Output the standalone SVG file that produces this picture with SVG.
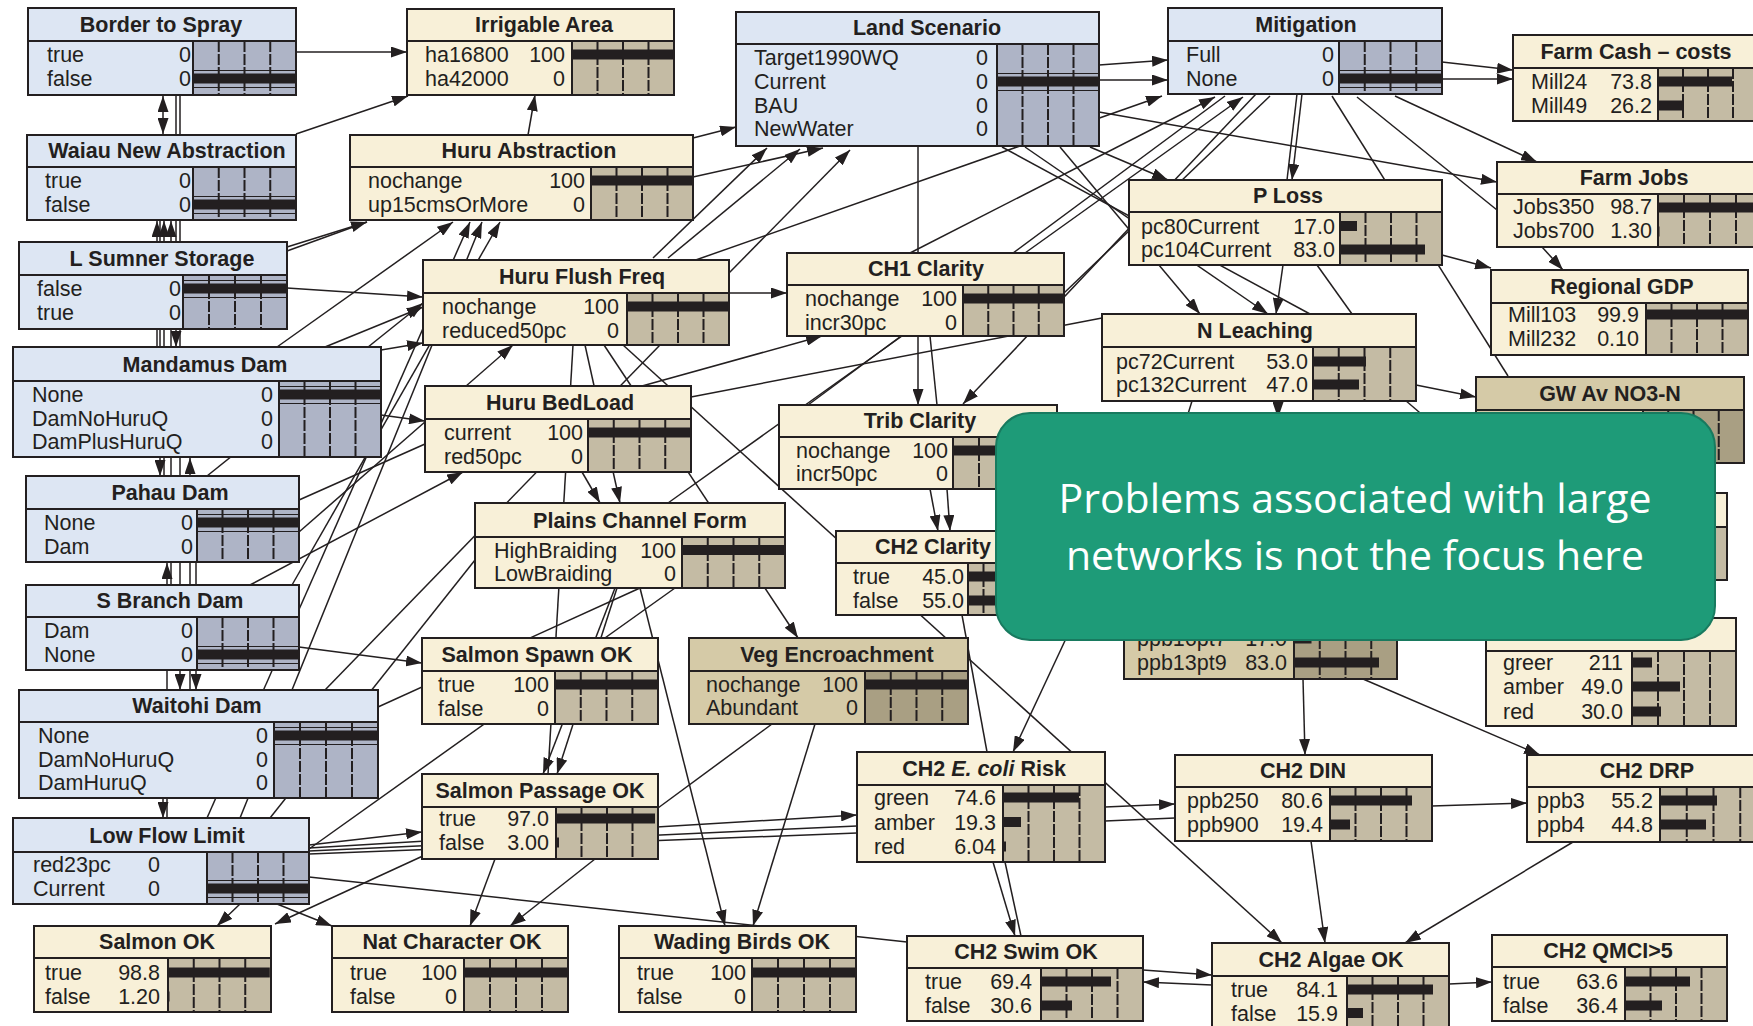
<svg xmlns="http://www.w3.org/2000/svg" width="1753" height="1026" viewBox="0 0 1753 1026">
<defs>
<marker id="ah" viewBox="0 0 16 11" refX="16" refY="5.5" markerWidth="16" markerHeight="11" markerUnits="userSpaceOnUse" orient="auto-start-reverse"><path d="M0,0 L16,5.5 L0,11 z" fill="#231f20"/></marker>
<style>
.b{fill:#dde6f3;stroke:#231f20;stroke-width:2}
.c{fill:#f8f0d8;stroke:#231f20;stroke-width:2}
.d{fill:#d5caa7;stroke:#231f20;stroke-width:2}
.bb{fill:#aeb4c6}
.cb{fill:#c4bba4}
.db{fill:#a99f83}
.bk{fill:#231f20}
.dv{stroke:#231f20;stroke-width:2;stroke-dasharray:11 2}
.ln{stroke:#231f20;stroke-width:2}
.th{stroke:#231f20;stroke-width:1}
.ol{fill:none;stroke:#231f20;stroke-width:2}
.t{font-family:"Liberation Sans",Arial,sans-serif;font-size:21.5px;font-weight:bold;fill:#231f20;text-anchor:middle}
.l{font-family:"Liberation Sans",Arial,sans-serif;font-size:21.5px;fill:#231f20}
.v{font-family:"Liberation Sans",Arial,sans-serif;font-size:21.5px;fill:#231f20;text-anchor:end}
.e{fill:none;stroke:#231f20;stroke-width:1.5}
.a{marker-end:url(#ah)}
.s{marker-start:url(#ah)}
.co{fill:#1e9b78;stroke:#187a5f;stroke-width:2}
.ct{font-family:"Open Sans","Noto Sans",sans-serif;font-size:41px;fill:#ffffff;text-anchor:middle}
</style>
</defs>
<rect width="1753" height="1026" fill="#ffffff"/>

<g id="connectors">
<path class="e a" d="M296,52 L407,52"/>
<path class="e a" d="M296,134 L408,96"/>
<path class="e a" d="M528,135 L535,95"/>
<path class="e a" d="M693,138 L736,127"/>
<path class="e a" d="M693,177 L823,148"/>
<path class="e a" d="M653,258 L767,148"/>
<path class="e a" d="M729,273 L850,150"/>
<path class="e a" d="M668,258 L800,149"/>
<path class="e a" d="M690,262 L1162,96"/>
<path class="e a" d="M1099,65 L1168,60"/>
<path class="e a" d="M1099,80 L1168,80"/>
<path class="e a" d="M910,253 L1215,97"/>
<path class="e a" d="M1025,253 L1243,97"/>
<path class="e a" d="M1256,94 L963,404"/>
<path class="e a" d="M1302,94 L1292,180"/>
<path class="e" d="M1297,94 L1287,180"/>
<path class="e a" d="M1442,62 L1513,70"/>
<path class="e a" d="M1442,79 L1513,79"/>
<path class="e a" d="M1395,96 L1537,162"/>
<path class="e" d="M1357,97 L1497,210"/>
<path class="e" d="M1332,96 L1508,376"/>
<path class="e a" d="M1099,112 L1497,182"/>
<path class="e a" d="M1090,147 L1168,180"/>
<path class="e" d="M1002,147 L1310,314"/>
<path class="e a" d="M1025,147 L1268,314"/>
<path class="e a" d="M1060,147 L1200,314"/>
<path class="e a" d="M1283,265 L1276,314"/>
<path class="e a" d="M1442,255 L1491,268"/>
<path class="e a" d="M1542,247 L1563,270"/>
<path class="e" d="M1317,265 L1352,314"/>
<path class="e a" d="M729,293 L787,293"/>
<path class="e a" d="M918,146 L918,405"/>
<path class="e" d="M930,336 L937,405"/>
<path class="e" d="M902,336 L668,503"/>
<path class="e" d="M1064,293 L1270,96"/>
<path class="e a" d="M930,489 L938,531"/>
<path class="e a" d="M947,489 L950,531"/>
<path class="e" d="M808,405 L1225,96"/>
<path class="e a" d="M287,288 L423,297"/>
<path class="e a" d="M381,350 L423,343"/>
<path class="e a" d="M299,532 L513,345"/>
<path class="e a" d="M381,415 L425,421"/>
<path class="e a" d="M250,585 L463,472"/>
<path class="e a" d="M299,647 L422,663"/>
<path class="e" d="M573,345 L548,774"/>
<path class="e a" d="M585,345 L620,503"/>
<path class="e a" d="M604,345 L798,638"/>
<path class="e a" d="M582,472 L600,503"/>
<path class="e a" d="M623,345 L1282,943"/>
<path class="e a" d="M642,386 L822,336"/>
<path class="e" d="M691,397 L1102,318"/>
<path class="e" d="M325,690 L660,345"/>
<path class="e a" d="M615,588 L543,774"/>
<path class="e a" d="M617,588 L557,774"/>
<path class="e" d="M309,849 L675,588"/>
<path class="e" d="M378,707 L640,588"/>
<path class="e a" d="M640,588 L725,926"/>
<path class="e" d="M772,724 L658,808"/>
<path class="e a" d="M815,724 L753,926"/>
<path class="e a" d="M495,859 L470,926"/>
<path class="e a" d="M595,859 L510,926"/>
<path class="e a" d="M425,855 L275,924"/>
<path class="e a" d="M240,904 L217,926"/>
<path class="e a" d="M277,904 L332,926"/>
<path class="e a" d="M309,845 L422,832"/>
<path class="e a" d="M309,848 L857,815"/>
<path class="e" d="M309,851 L857,826"/>
<path class="e" d="M309,854 L857,833"/>
<path class="e" d="M309,877 L907,942"/>
<path class="e a" d="M207,818 L470,222"/>
<path class="e a" d="M240,818 L482,222"/>
<path class="e a" d="M277,347 L453,222"/>
<path class="e a" d="M325,347 L423,307"/>
<path class="e" d="M299,500 L425,444"/>
<path class="e a" d="M292,585 L500,222"/>
<path class="e a" d="M207,476 L423,303"/>
<path class="e" d="M270,818 L475,560"/>
<path class="e a" d="M287,247 L367,222"/>
<path class="e" d="M287,251 L367,222"/>
<path class="e a" d="M1105,807 L1175,804"/>
<path class="e" d="M1105,821 L1175,818"/>
<path class="e a" d="M993,862 L1015,936"/>
<path class="e" d="M1005,862 L1021,936"/>
<path class="e a" d="M1143,970 L1212,975"/>
<path class="e a" d="M1212,985 L1143,982"/>
<path class="e a" d="M1432,806 L1527,803"/>
<path class="e a" d="M1311,841 L1325,943"/>
<path class="e a" d="M1573,842 L1405,943"/>
<path class="e a" d="M1449,984 L1492,982"/>
<path class="e a" d="M1303,679 L1305,755"/>
<path class="e a" d="M1363,679 L1540,755"/>
<path class="e a" d="M1416,385 L1476,397"/>
<path class="e a" d="M1278,401 L1278,418"/>
<path class="e" d="M1192,401 L1180,440"/>
<path class="e" d="M1405,400 L1440,430"/>
<path class="e a" d="M1070,630 L1013,752"/>
<path class="e" d="M962,615 L987,752"/>
<path class="e a s" d="M163,134 L163,96"/>
<path class="e a" d="M157,347 L157,221"/>
<path class="e a" d="M164,476 L164,221"/>
<path class="e a" d="M171,585 L171,221"/>
<path class="e a" d="M176,95 L176,347"/>
<path class="e a" d="M160,220 L160,476"/>
<path class="e a" d="M190,690 L190,458"/>
<path class="e a" d="M167,818 L167,563"/>
<path class="e a" d="M180,95 L180,690"/>
<path class="e a" d="M196,476 L196,690"/>
<path class="e a" d="M163,798 L163,818"/>
</g>

<g id="n-border">
<rect class="b" x="28" y="8" width="268" height="87"/>
<rect class="bb" x="193" y="41" width="103" height="54"/>
<line class="dv" x1="218.75" y1="41" x2="218.75" y2="95"/><line class="dv" x1="244.5" y1="41" x2="244.5" y2="95"/><line class="dv" x1="270.25" y1="41" x2="270.25" y2="95"/>
<rect class="bk" x="193" y="73.5" width="103" height="10"/>
<line class="th" x1="193" y1="70.5" x2="296" y2="70.5"/><line class="th" x1="193" y1="87.5" x2="296" y2="87.5"/>
<line class="ln" x1="28" y1="41" x2="296" y2="41"/><line class="ln" x1="193" y1="41" x2="193" y2="95"/>
<rect class="ol" x="28" y="8" width="268" height="87"/>
<text class="t" x="161" y="32">Border to Spray</text>
<text class="l" x="47" y="62">true</text><text class="v" x="191" y="62">0</text>
<text class="l" x="47" y="86">false</text><text class="v" x="191" y="86">0</text>
</g>

<g id="n-waiau">
<rect class="b" x="27" y="135" width="269" height="85"/>
<rect class="bb" x="193" y="167" width="103" height="53"/>
<line class="dv" x1="218.75" y1="167" x2="218.75" y2="220"/><line class="dv" x1="244.5" y1="167" x2="244.5" y2="220"/><line class="dv" x1="270.25" y1="167" x2="270.25" y2="220"/>
<rect class="bk" x="193" y="199.5" width="103" height="10"/>
<line class="th" x1="193" y1="196.5" x2="296" y2="196.5"/><line class="th" x1="193" y1="213.5" x2="296" y2="213.5"/>
<line class="ln" x1="27" y1="167" x2="296" y2="167"/><line class="ln" x1="193" y1="167" x2="193" y2="220"/>
<rect class="ol" x="27" y="135" width="269" height="85"/>
<text class="t" x="167" y="158">Waiau New Abstraction</text>
<text class="l" x="45" y="188">true</text><text class="v" x="191" y="188">0</text>
<text class="l" x="45" y="212">false</text><text class="v" x="191" y="212">0</text>
</g>

<g id="n-lsumner">
<rect class="b" x="19" y="242" width="268" height="87"/>
<rect class="bb" x="183" y="275" width="104" height="54"/>
<line class="dv" x1="209" y1="275" x2="209" y2="329"/><line class="dv" x1="235" y1="275" x2="235" y2="329"/><line class="dv" x1="261" y1="275" x2="261" y2="329"/>
<rect class="bk" x="183" y="283.5" width="104" height="10"/>
<line class="th" x1="183" y1="280.5" x2="287" y2="280.5"/><line class="th" x1="183" y1="297.5" x2="287" y2="297.5"/>
<line class="ln" x1="19" y1="275" x2="287" y2="275"/><line class="ln" x1="183" y1="275" x2="183" y2="329"/>
<rect class="ol" x="19" y="242" width="268" height="87"/>
<text class="t" x="162" y="266">L Sumner Storage</text>
<text class="l" x="37" y="296">false</text><text class="v" x="181" y="296">0</text>
<text class="l" x="37" y="320">true</text><text class="v" x="181" y="320">0</text>
</g>

<g id="n-mandamus">
<rect class="b" x="13" y="347" width="368" height="110"/>
<rect class="bb" x="279" y="381" width="102" height="76"/>
<line class="dv" x1="304.5" y1="381" x2="304.5" y2="457"/><line class="dv" x1="330" y1="381" x2="330" y2="457"/><line class="dv" x1="355.5" y1="381" x2="355.5" y2="457"/>
<rect class="bk" x="279" y="389.5" width="102" height="10"/>
<line class="th" x1="279" y1="386.5" x2="381" y2="386.5"/><line class="th" x1="279" y1="403.5" x2="381" y2="403.5"/>
<line class="ln" x1="13" y1="381" x2="381" y2="381"/><line class="ln" x1="279" y1="381" x2="279" y2="457"/>
<rect class="ol" x="13" y="347" width="368" height="110"/>
<text class="t" x="205" y="372">Mandamus Dam</text>
<text class="l" x="32" y="402">None</text><text class="v" x="273" y="402">0</text>
<text class="l" x="32" y="425.5">DamNoHuruQ</text><text class="v" x="273" y="425.5">0</text>
<text class="l" x="32" y="449">DamPlusHuruQ</text><text class="v" x="273" y="449">0</text>
</g>

<g id="n-pahau">
<rect class="b" x="26" y="476" width="273" height="86"/>
<rect class="bb" x="197" y="509" width="102" height="53"/>
<line class="dv" x1="222.5" y1="509" x2="222.5" y2="562"/><line class="dv" x1="248" y1="509" x2="248" y2="562"/><line class="dv" x1="273.5" y1="509" x2="273.5" y2="562"/>
<rect class="bk" x="197" y="517.5" width="102" height="10"/>
<line class="th" x1="197" y1="514.5" x2="299" y2="514.5"/><line class="th" x1="197" y1="531.5" x2="299" y2="531.5"/>
<line class="ln" x1="26" y1="509" x2="299" y2="509"/><line class="ln" x1="197" y1="509" x2="197" y2="562"/>
<rect class="ol" x="26" y="476" width="273" height="86"/>
<text class="t" x="170" y="500">Pahau Dam</text>
<text class="l" x="44" y="530">None</text><text class="v" x="193" y="530">0</text>
<text class="l" x="44" y="554">Dam</text><text class="v" x="193" y="554">0</text>
</g>

<g id="n-sbranch">
<rect class="b" x="26" y="585" width="273" height="85"/>
<rect class="bb" x="197" y="617" width="102" height="53"/>
<line class="dv" x1="222.5" y1="617" x2="222.5" y2="670"/><line class="dv" x1="248" y1="617" x2="248" y2="670"/><line class="dv" x1="273.5" y1="617" x2="273.5" y2="670"/>
<rect class="bk" x="197" y="649.5" width="102" height="10"/>
<line class="th" x1="197" y1="646.5" x2="299" y2="646.5"/><line class="th" x1="197" y1="663.5" x2="299" y2="663.5"/>
<line class="ln" x1="26" y1="617" x2="299" y2="617"/><line class="ln" x1="197" y1="617" x2="197" y2="670"/>
<rect class="ol" x="26" y="585" width="273" height="85"/>
<text class="t" x="170" y="608">S Branch Dam</text>
<text class="l" x="44" y="638">Dam</text><text class="v" x="193" y="638">0</text>
<text class="l" x="44" y="662">None</text><text class="v" x="193" y="662">0</text>
</g>

<g id="n-waitohi">
<rect class="b" x="19" y="690" width="359" height="108"/>
<rect class="bb" x="274" y="722" width="104" height="76"/>
<line class="dv" x1="300" y1="722" x2="300" y2="798"/><line class="dv" x1="326" y1="722" x2="326" y2="798"/><line class="dv" x1="352" y1="722" x2="352" y2="798"/>
<rect class="bk" x="274" y="730.5" width="104" height="10"/>
<line class="th" x1="274" y1="727.5" x2="378" y2="727.5"/><line class="th" x1="274" y1="744.5" x2="378" y2="744.5"/>
<line class="ln" x1="19" y1="722" x2="378" y2="722"/><line class="ln" x1="274" y1="722" x2="274" y2="798"/>
<rect class="ol" x="19" y="690" width="359" height="108"/>
<text class="t" x="197" y="713">Waitohi Dam</text>
<text class="l" x="38" y="743">None</text><text class="v" x="268" y="743">0</text>
<text class="l" x="38" y="766.5">DamNoHuruQ</text><text class="v" x="268" y="766.5">0</text>
<text class="l" x="38" y="790">DamHuruQ</text><text class="v" x="268" y="790">0</text>
</g>

<g id="n-lowflow">
<rect class="b" x="13" y="818" width="296" height="86"/>
<rect class="bb" x="207" y="852" width="102" height="52"/>
<line class="dv" x1="232.5" y1="852" x2="232.5" y2="904"/><line class="dv" x1="258" y1="852" x2="258" y2="904"/><line class="dv" x1="283.5" y1="852" x2="283.5" y2="904"/>
<rect class="bk" x="207" y="883.5" width="102" height="10"/>
<line class="th" x1="207" y1="880.5" x2="309" y2="880.5"/><line class="th" x1="207" y1="897.5" x2="309" y2="897.5"/>
<line class="ln" x1="13" y1="852" x2="309" y2="852"/><line class="ln" x1="207" y1="852" x2="207" y2="904"/>
<rect class="ol" x="13" y="818" width="296" height="86"/>
<text class="t" x="167" y="843">Low Flow Limit</text>
<text class="l" x="33" y="872">red23pc</text><text class="v" x="160" y="872">0</text>
<text class="l" x="33" y="896">Current</text><text class="v" x="160" y="896">0</text>
</g>

<g id="n-land">
<rect class="b" x="736" y="12" width="363" height="134"/>
<rect class="bb" x="997" y="44" width="102" height="102"/>
<line class="dv" x1="1022.5" y1="44" x2="1022.5" y2="146"/><line class="dv" x1="1048" y1="44" x2="1048" y2="146"/><line class="dv" x1="1073.5" y1="44" x2="1073.5" y2="146"/>
<rect class="bk" x="997" y="76.5" width="102" height="10"/>
<line class="th" x1="997" y1="73.5" x2="1099" y2="73.5"/><line class="th" x1="997" y1="90.5" x2="1099" y2="90.5"/>
<line class="ln" x1="736" y1="44" x2="1099" y2="44"/><line class="ln" x1="997" y1="44" x2="997" y2="146"/>
<rect class="ol" x="736" y="12" width="363" height="134"/>
<text class="t" x="927" y="35">Land Scenario</text>
<text class="l" x="754" y="64.5">Target1990WQ</text><text class="v" x="988" y="64.5">0</text>
<text class="l" x="754" y="89">Current</text><text class="v" x="988" y="89">0</text>
<text class="l" x="754" y="112.5">BAU</text><text class="v" x="988" y="112.5">0</text>
<text class="l" x="754" y="136">NewWater</text><text class="v" x="988" y="136">0</text>
</g>

<g id="n-mitigation">
<rect class="b" x="1168" y="8" width="274" height="86"/>
<rect class="bb" x="1339" y="41" width="103" height="53"/>
<line class="dv" x1="1364.75" y1="41" x2="1364.75" y2="94"/><line class="dv" x1="1390.5" y1="41" x2="1390.5" y2="94"/><line class="dv" x1="1416.25" y1="41" x2="1416.25" y2="94"/>
<rect class="bk" x="1339" y="73.5" width="103" height="10"/>
<line class="th" x1="1339" y1="70.5" x2="1442" y2="70.5"/><line class="th" x1="1339" y1="87.5" x2="1442" y2="87.5"/>
<line class="ln" x1="1168" y1="41" x2="1442" y2="41"/><line class="ln" x1="1339" y1="41" x2="1339" y2="94"/>
<rect class="ol" x="1168" y="8" width="274" height="86"/>
<text class="t" x="1306" y="32">Mitigation</text>
<text class="l" x="1186" y="62">Full</text><text class="v" x="1334" y="62">0</text>
<text class="l" x="1186" y="86">None</text><text class="v" x="1334" y="86">0</text>
</g>

<g id="n-irrigable">
<rect class="c" x="407" y="9" width="267" height="86"/>
<rect class="cb" x="572" y="41" width="102" height="54"/>
<line class="dv" x1="597.5" y1="41" x2="597.5" y2="95"/><line class="dv" x1="623" y1="41" x2="623" y2="95"/><line class="dv" x1="648.5" y1="41" x2="648.5" y2="95"/>
<rect class="bk" x="572" y="49.5" width="102" height="10"/>
<line class="ln" x1="407" y1="41" x2="674" y2="41"/><line class="ln" x1="572" y1="41" x2="572" y2="95"/>
<rect class="ol" x="407" y="9" width="267" height="86"/>
<text class="t" x="544" y="32">Irrigable Area</text>
<text class="l" x="425" y="62">ha16800</text><text class="v" x="565" y="62">100</text>
<text class="l" x="425" y="86">ha42000</text><text class="v" x="565" y="86">0</text>
</g>

<g id="n-huruabs">
<rect class="c" x="350" y="135" width="343" height="85"/>
<rect class="cb" x="591" y="167" width="102" height="53"/>
<line class="dv" x1="616.5" y1="167" x2="616.5" y2="220"/><line class="dv" x1="642" y1="167" x2="642" y2="220"/><line class="dv" x1="667.5" y1="167" x2="667.5" y2="220"/>
<rect class="bk" x="591" y="175.5" width="102" height="10"/>
<line class="ln" x1="350" y1="167" x2="693" y2="167"/><line class="ln" x1="591" y1="167" x2="591" y2="220"/>
<rect class="ol" x="350" y="135" width="343" height="85"/>
<text class="t" x="529" y="158">Huru Abstraction</text>
<text class="l" x="368" y="188">nochange</text><text class="v" x="585" y="188">100</text>
<text class="l" x="368" y="212">up15cmsOrMore</text><text class="v" x="585" y="212">0</text>
</g>

<g id="n-huruflush">
<rect class="c" x="423" y="260" width="306" height="85"/>
<rect class="cb" x="627" y="293" width="102" height="52"/>
<line class="dv" x1="652.5" y1="293" x2="652.5" y2="345"/><line class="dv" x1="678" y1="293" x2="678" y2="345"/><line class="dv" x1="703.5" y1="293" x2="703.5" y2="345"/>
<rect class="bk" x="627" y="301.5" width="102" height="10"/>
<line class="ln" x1="423" y1="293" x2="729" y2="293"/><line class="ln" x1="627" y1="293" x2="627" y2="345"/>
<rect class="ol" x="423" y="260" width="306" height="85"/>
<text class="t" x="582" y="284">Huru Flush Freq</text>
<text class="l" x="442" y="314">nochange</text><text class="v" x="619" y="314">100</text>
<text class="l" x="442" y="338">reduced50pc</text><text class="v" x="619" y="338">0</text>
</g>

<g id="n-bedload">
<rect class="c" x="425" y="386" width="266" height="86"/>
<rect class="cb" x="588" y="419" width="103" height="53"/>
<line class="dv" x1="613.75" y1="419" x2="613.75" y2="472"/><line class="dv" x1="639.5" y1="419" x2="639.5" y2="472"/><line class="dv" x1="665.25" y1="419" x2="665.25" y2="472"/>
<rect class="bk" x="588" y="427.5" width="103" height="10"/>
<line class="ln" x1="425" y1="419" x2="691" y2="419"/><line class="ln" x1="588" y1="419" x2="588" y2="472"/>
<rect class="ol" x="425" y="386" width="266" height="86"/>
<text class="t" x="560" y="410">Huru BedLoad</text>
<text class="l" x="444" y="440">current</text><text class="v" x="583" y="440">100</text>
<text class="l" x="444" y="464">red50pc</text><text class="v" x="583" y="464">0</text>
</g>

<g id="n-plains">
<rect class="c" x="475" y="503" width="310" height="85"/>
<rect class="cb" x="682" y="537" width="103" height="51"/>
<line class="dv" x1="707.75" y1="537" x2="707.75" y2="588"/><line class="dv" x1="733.5" y1="537" x2="733.5" y2="588"/><line class="dv" x1="759.25" y1="537" x2="759.25" y2="588"/>
<rect class="bk" x="682" y="545" width="103" height="10"/>
<line class="ln" x1="475" y1="537" x2="785" y2="537"/><line class="ln" x1="682" y1="537" x2="682" y2="588"/>
<rect class="ol" x="475" y="503" width="310" height="85"/>
<text class="t" x="640" y="528">Plains Channel Form</text>
<text class="l" x="494" y="557.5">HighBraiding</text><text class="v" x="676" y="557.5">100</text>
<text class="l" x="494" y="581">LowBraiding</text><text class="v" x="676" y="581">0</text>
</g>

<g id="n-spawn">
<rect class="c" x="422" y="638" width="236" height="86"/>
<rect class="cb" x="555" y="671" width="103" height="53"/>
<line class="dv" x1="580.75" y1="671" x2="580.75" y2="724"/><line class="dv" x1="606.5" y1="671" x2="606.5" y2="724"/><line class="dv" x1="632.25" y1="671" x2="632.25" y2="724"/>
<rect class="bk" x="555" y="679.5" width="103" height="10"/>
<line class="ln" x1="422" y1="671" x2="658" y2="671"/><line class="ln" x1="555" y1="671" x2="555" y2="724"/>
<rect class="ol" x="422" y="638" width="236" height="86"/>
<text class="t" x="537" y="662">Salmon Spawn OK</text>
<text class="l" x="438" y="692">true</text><text class="v" x="549" y="692">100</text>
<text class="l" x="438" y="716">false</text><text class="v" x="549" y="716">0</text>
</g>

<g id="n-passage">
<rect class="c" x="422" y="774" width="236" height="85"/>
<rect class="cb" x="556" y="807" width="102" height="52"/>
<line class="dv" x1="581.5" y1="807" x2="581.5" y2="859"/><line class="dv" x1="607" y1="807" x2="607" y2="859"/><line class="dv" x1="632.5" y1="807" x2="632.5" y2="859"/>
<rect class="bk" x="556" y="813.5" width="99" height="10"/>
<rect class="bk" x="556" y="837.5" width="3" height="10"/>
<line class="ln" x1="422" y1="807" x2="658" y2="807"/><line class="ln" x1="556" y1="807" x2="556" y2="859"/>
<rect class="ol" x="422" y="774" width="236" height="85"/>
<text class="t" x="540" y="798">Salmon Passage OK</text>
<text class="l" x="439" y="826">true</text><text class="v" x="549" y="826">97.0</text>
<text class="l" x="439" y="850">false</text><text class="v" x="549" y="850">3.00</text>
</g>

<g id="n-salmonok">
<rect class="c" x="34" y="926" width="237" height="86"/>
<rect class="cb" x="168" y="958" width="103" height="54"/>
<line class="dv" x1="193.75" y1="958" x2="193.75" y2="1012"/><line class="dv" x1="219.5" y1="958" x2="219.5" y2="1012"/><line class="dv" x1="245.25" y1="958" x2="245.25" y2="1012"/>
<rect class="bk" x="168" y="967.5" width="101.8" height="10"/>
<rect class="bk" x="168" y="991.5" width="1.5" height="10"/>
<line class="ln" x1="34" y1="958" x2="271" y2="958"/><line class="ln" x1="168" y1="958" x2="168" y2="1012"/>
<rect class="ol" x="34" y="926" width="237" height="86"/>
<text class="t" x="157" y="949">Salmon OK</text>
<text class="l" x="45" y="980">true</text><text class="v" x="160" y="980">98.8</text>
<text class="l" x="45" y="1004">false</text><text class="v" x="160" y="1004">1.20</text>
</g>

<g id="n-natchar">
<rect class="c" x="332" y="926" width="236" height="86"/>
<rect class="cb" x="464" y="958" width="104" height="54"/>
<line class="dv" x1="490" y1="958" x2="490" y2="1012"/><line class="dv" x1="516" y1="958" x2="516" y2="1012"/><line class="dv" x1="542" y1="958" x2="542" y2="1012"/>
<rect class="bk" x="464" y="967.5" width="104" height="10"/>
<line class="ln" x1="332" y1="958" x2="568" y2="958"/><line class="ln" x1="464" y1="958" x2="464" y2="1012"/>
<rect class="ol" x="332" y="926" width="236" height="86"/>
<text class="t" x="452" y="949">Nat Character OK</text>
<text class="l" x="350" y="980">true</text><text class="v" x="457" y="980">100</text>
<text class="l" x="350" y="1004">false</text><text class="v" x="457" y="1004">0</text>
</g>

<g id="n-wading">
<rect class="c" x="619" y="926" width="237" height="86"/>
<rect class="cb" x="752" y="958" width="104" height="54"/>
<line class="dv" x1="778" y1="958" x2="778" y2="1012"/><line class="dv" x1="804" y1="958" x2="804" y2="1012"/><line class="dv" x1="830" y1="958" x2="830" y2="1012"/>
<rect class="bk" x="752" y="967.5" width="104" height="10"/>
<line class="ln" x1="619" y1="958" x2="856" y2="958"/><line class="ln" x1="752" y1="958" x2="752" y2="1012"/>
<rect class="ol" x="619" y="926" width="237" height="86"/>
<text class="t" x="742" y="949">Wading Birds OK</text>
<text class="l" x="637" y="980">true</text><text class="v" x="746" y="980">100</text>
<text class="l" x="637" y="1004">false</text><text class="v" x="746" y="1004">0</text>
</g>

<g id="n-ch1">
<rect class="c" x="787" y="253" width="277" height="83"/>
<rect class="cb" x="963" y="285" width="101" height="51"/>
<line class="dv" x1="988.25" y1="285" x2="988.25" y2="336"/><line class="dv" x1="1013.5" y1="285" x2="1013.5" y2="336"/><line class="dv" x1="1038.75" y1="285" x2="1038.75" y2="336"/>
<rect class="bk" x="963" y="293.5" width="101" height="10"/>
<line class="ln" x1="787" y1="285" x2="1064" y2="285"/><line class="ln" x1="963" y1="285" x2="963" y2="336"/>
<rect class="ol" x="787" y="253" width="277" height="83"/>
<text class="t" x="926" y="276">CH1 Clarity</text>
<text class="l" x="805" y="306">nochange</text><text class="v" x="957" y="306">100</text>
<text class="l" x="805" y="329.5">incr30pc</text><text class="v" x="957" y="329.5">0</text>
</g>

<g id="n-trib">
<rect class="c" x="779" y="405" width="278" height="84"/>
<rect class="cb" x="953" y="437" width="104" height="52"/>
<line class="dv" x1="979" y1="437" x2="979" y2="489"/><line class="dv" x1="1005" y1="437" x2="1005" y2="489"/><line class="dv" x1="1031" y1="437" x2="1031" y2="489"/>
<rect class="bk" x="953" y="445.5" width="104" height="10"/>
<line class="ln" x1="779" y1="437" x2="1057" y2="437"/><line class="ln" x1="953" y1="437" x2="953" y2="489"/>
<rect class="ol" x="779" y="405" width="278" height="84"/>
<text class="t" x="920" y="428">Trib Clarity</text>
<text class="l" x="796" y="458">nochange</text><text class="v" x="948" y="458">100</text>
<text class="l" x="796" y="481">incr50pc</text><text class="v" x="948" y="481">0</text>
</g>

<g id="n-ch2clarity">
<rect class="c" x="836" y="531" width="194" height="84"/>
<rect class="cb" x="968" y="563" width="62" height="52"/>
<line class="dv" x1="983.5" y1="563" x2="983.5" y2="615"/><line class="dv" x1="999" y1="563" x2="999" y2="615"/><line class="dv" x1="1014.5" y1="563" x2="1014.5" y2="615"/>
<rect class="bk" x="968" y="571.5" width="28" height="10"/>
<rect class="bk" x="968" y="595.5" width="34" height="10"/>
<line class="ln" x1="836" y1="563" x2="1030" y2="563"/><line class="ln" x1="968" y1="563" x2="968" y2="615"/>
<rect class="ol" x="836" y="531" width="194" height="84"/>
<text class="t" x="933" y="554">CH2 Clarity</text>
<text class="l" x="853" y="584">true</text><text class="v" x="964" y="584">45.0</text>
<text class="l" x="853" y="608">false</text><text class="v" x="964" y="608">55.0</text>
</g>

<g id="n-ploss">
<rect class="c" x="1129" y="180" width="313" height="85"/>
<rect class="cb" x="1340" y="212" width="102" height="53"/>
<line class="dv" x1="1365.5" y1="212" x2="1365.5" y2="265"/><line class="dv" x1="1391" y1="212" x2="1391" y2="265"/><line class="dv" x1="1416.5" y1="212" x2="1416.5" y2="265"/>
<rect class="bk" x="1340" y="221" width="17" height="10"/>
<rect class="bk" x="1340" y="244.5" width="85" height="10"/>
<line class="ln" x1="1129" y1="212" x2="1442" y2="212"/><line class="ln" x1="1340" y1="212" x2="1340" y2="265"/>
<rect class="ol" x="1129" y="180" width="313" height="85"/>
<text class="t" x="1288" y="203">P Loss</text>
<text class="l" x="1141" y="234">pc80Current</text><text class="v" x="1335" y="234">17.0</text>
<text class="l" x="1141" y="257">pc104Current</text><text class="v" x="1335" y="257">83.0</text>
</g>

<g id="n-nleach">
<rect class="c" x="1102" y="314" width="314" height="87"/>
<rect class="cb" x="1313" y="347" width="103" height="54"/>
<line class="dv" x1="1338.75" y1="347" x2="1338.75" y2="401"/><line class="dv" x1="1364.5" y1="347" x2="1364.5" y2="401"/><line class="dv" x1="1390.25" y1="347" x2="1390.25" y2="401"/>
<rect class="bk" x="1313" y="356.5" width="53" height="10"/>
<rect class="bk" x="1313" y="379.5" width="46" height="10"/>
<line class="ln" x1="1102" y1="347" x2="1416" y2="347"/><line class="ln" x1="1313" y1="347" x2="1313" y2="401"/>
<rect class="ol" x="1102" y="314" width="314" height="87"/>
<text class="t" x="1255" y="338">N Leaching</text>
<text class="l" x="1116" y="369">pc72Current</text><text class="v" x="1308" y="369">53.0</text>
<text class="l" x="1116" y="392">pc132Current</text><text class="v" x="1308" y="392">47.0</text>
</g>

<g id="n-farmcash">
<rect class="c" x="1513" y="35" width="245" height="86"/>
<rect class="cb" x="1658" y="68" width="100" height="53"/>
<line class="dv" x1="1683" y1="68" x2="1683" y2="121"/><line class="dv" x1="1708" y1="68" x2="1708" y2="121"/><line class="dv" x1="1733" y1="68" x2="1733" y2="121"/>
<rect class="bk" x="1658" y="76.5" width="74" height="10"/>
<rect class="bk" x="1658" y="100.5" width="26" height="10"/>
<line class="ln" x1="1513" y1="68" x2="1758" y2="68"/><line class="ln" x1="1658" y1="68" x2="1658" y2="121"/>
<rect class="ol" x="1513" y="35" width="245" height="86"/>
<text class="t" x="1636" y="59">Farm Cash – costs</text>
<text class="l" x="1531" y="89">Mill24</text><text class="v" x="1652" y="89">73.8</text>
<text class="l" x="1531" y="113">Mill49</text><text class="v" x="1652" y="113">26.2</text>
</g>

<g id="n-farmjobs">
<rect class="c" x="1497" y="162" width="265" height="85"/>
<rect class="cb" x="1658" y="194" width="104" height="53"/>
<line class="dv" x1="1684" y1="194" x2="1684" y2="247"/><line class="dv" x1="1710" y1="194" x2="1710" y2="247"/><line class="dv" x1="1736" y1="194" x2="1736" y2="247"/>
<rect class="bk" x="1658" y="202.5" width="103" height="10"/>
<rect class="bk" x="1658" y="226.5" width="1.5" height="10"/>
<line class="ln" x1="1497" y1="194" x2="1762" y2="194"/><line class="ln" x1="1658" y1="194" x2="1658" y2="247"/>
<rect class="ol" x="1497" y="162" width="265" height="85"/>
<text class="t" x="1634" y="185">Farm Jobs</text>
<text class="l" x="1513" y="214">Jobs350</text><text class="v" x="1652" y="214">98.7</text>
<text class="l" x="1513" y="238">Jobs700</text><text class="v" x="1652" y="238">1.30</text>
</g>

<g id="n-gdp">
<rect class="c" x="1491" y="270" width="257" height="85"/>
<rect class="cb" x="1646" y="303" width="102" height="52"/>
<line class="dv" x1="1671.5" y1="303" x2="1671.5" y2="355"/><line class="dv" x1="1697" y1="303" x2="1697" y2="355"/><line class="dv" x1="1722.5" y1="303" x2="1722.5" y2="355"/>
<rect class="bk" x="1646" y="309.5" width="102" height="10"/>
<line class="ln" x1="1491" y1="303" x2="1748" y2="303"/><line class="ln" x1="1646" y1="303" x2="1646" y2="355"/>
<rect class="ol" x="1491" y="270" width="257" height="85"/>
<text class="t" x="1622" y="294">Regional GDP</text>
<text class="l" x="1508" y="322">Mill103</text><text class="v" x="1639" y="322">99.9</text>
<text class="l" x="1508" y="346">Mill232</text><text class="v" x="1639" y="346">0.10</text>
</g>

<g id="n-gw">
<rect class="d" x="1476" y="377" width="268" height="86"/>
<rect class="db" x="1643" y="410" width="101" height="53"/>
<line class="dv" x1="1668.25" y1="410" x2="1668.25" y2="463"/><line class="dv" x1="1693.5" y1="410" x2="1693.5" y2="463"/><line class="dv" x1="1718.75" y1="410" x2="1718.75" y2="463"/>
<line class="ln" x1="1476" y1="410" x2="1744" y2="410"/><line class="ln" x1="1643" y1="410" x2="1643" y2="463"/>
<rect class="ol" x="1476" y="377" width="268" height="86"/>
<text class="t" x="1610" y="401">GW Av NO3-N</text>
</g>

<g id="n-hidden1">
<rect class="c" x="1460" y="493" width="267" height="87"/>
<rect class="cb" x="1625" y="527" width="102" height="53"/>
<line class="dv" x1="1650.5" y1="527" x2="1650.5" y2="580"/><line class="dv" x1="1676" y1="527" x2="1676" y2="580"/><line class="dv" x1="1701.5" y1="527" x2="1701.5" y2="580"/>
<line class="ln" x1="1460" y1="527" x2="1727" y2="527"/>
<rect class="ol" x="1460" y="493" width="267" height="87"/>
</g>

<g id="n-tribecoli">
<rect class="c" x="1486" y="618" width="250" height="108"/>
<rect class="cb" x="1632" y="651" width="104" height="75"/>
<line class="dv" x1="1658" y1="651" x2="1658" y2="726"/><line class="dv" x1="1684" y1="651" x2="1684" y2="726"/><line class="dv" x1="1710" y1="651" x2="1710" y2="726"/>
<rect class="bk" x="1632" y="657.5" width="20" height="10"/>
<rect class="bk" x="1632" y="681.5" width="48" height="10"/>
<rect class="bk" x="1632" y="706.5" width="29" height="10"/>
<line class="ln" x1="1486" y1="651" x2="1736" y2="651"/><line class="ln" x1="1632" y1="651" x2="1632" y2="726"/>
<rect class="ol" x="1486" y="618" width="250" height="108"/>
<text class="l" x="1503" y="670">greer</text><text class="v" x="1623" y="670">211</text>
<text class="l" x="1503" y="694">amber</text><text class="v" x="1623" y="694">49.0</text>
<text class="l" x="1503" y="719">red</text><text class="v" x="1623" y="719">30.0</text>
</g>

<g id="n-ppb">
<rect class="d" x="1124" y="592" width="273" height="87"/>
<rect class="db" x="1294" y="625" width="103" height="54"/>
<line class="dv" x1="1319.75" y1="625" x2="1319.75" y2="679"/><line class="dv" x1="1345.5" y1="625" x2="1345.5" y2="679"/><line class="dv" x1="1371.25" y1="625" x2="1371.25" y2="679"/>
<rect class="bk" x="1294" y="633.5" width="17.5" height="10"/>
<rect class="bk" x="1294" y="657.5" width="85" height="10"/>
<line class="ln" x1="1124" y1="625" x2="1397" y2="625"/><line class="ln" x1="1294" y1="625" x2="1294" y2="679"/>
<rect class="ol" x="1124" y="592" width="273" height="87"/>
<text class="l" x="1137" y="646">ppb16pt7</text><text class="v" x="1287" y="646">17.0</text>
<text class="l" x="1137" y="670">ppb13pt9</text><text class="v" x="1287" y="670">83.0</text>
</g>

<g id="n-veg">
<rect class="d" x="689" y="638" width="279" height="86"/>
<rect class="db" x="865" y="671" width="103" height="53"/>
<line class="dv" x1="890.75" y1="671" x2="890.75" y2="724"/><line class="dv" x1="916.5" y1="671" x2="916.5" y2="724"/><line class="dv" x1="942.25" y1="671" x2="942.25" y2="724"/>
<rect class="bk" x="865" y="679.5" width="103" height="10"/>
<line class="ln" x1="689" y1="671" x2="968" y2="671"/><line class="ln" x1="865" y1="671" x2="865" y2="724"/>
<rect class="ol" x="689" y="638" width="279" height="86"/>
<text class="t" x="837" y="662">Veg Encroachment</text>
<text class="l" x="706" y="692">nochange</text><text class="v" x="858" y="692">100</text>
<text class="l" x="706" y="715">Abundant</text><text class="v" x="858" y="715">0</text>
</g>

<g id="n-ecoli">
<rect class="c" x="857" y="752" width="248" height="110"/>
<rect class="cb" x="1003" y="785" width="102" height="77"/>
<line class="dv" x1="1028.5" y1="785" x2="1028.5" y2="862"/><line class="dv" x1="1054" y1="785" x2="1054" y2="862"/><line class="dv" x1="1079.5" y1="785" x2="1079.5" y2="862"/>
<rect class="bk" x="1003" y="792.5" width="76" height="10"/>
<rect class="bk" x="1003" y="817" width="18" height="10"/>
<rect class="bk" x="1003" y="841.5" width="3" height="10"/>
<line class="ln" x1="857" y1="785" x2="1105" y2="785"/><line class="ln" x1="1003" y1="785" x2="1003" y2="862"/>
<rect class="ol" x="857" y="752" width="248" height="110"/>
<text class="t" x="984" y="776">CH2 <tspan font-style="italic">E. coli</tspan> Risk</text>
<text class="l" x="874" y="805">green</text><text class="v" x="996" y="805">74.6</text>
<text class="l" x="874" y="829.5">amber</text><text class="v" x="996" y="829.5">19.3</text>
<text class="l" x="874" y="854">red</text><text class="v" x="996" y="854">6.04</text>
</g>

<g id="n-din">
<rect class="c" x="1175" y="755" width="257" height="86"/>
<rect class="cb" x="1330" y="787" width="102" height="54"/>
<line class="dv" x1="1355.5" y1="787" x2="1355.5" y2="841"/><line class="dv" x1="1381" y1="787" x2="1381" y2="841"/><line class="dv" x1="1406.5" y1="787" x2="1406.5" y2="841"/>
<rect class="bk" x="1330" y="795.5" width="82" height="10"/>
<rect class="bk" x="1330" y="819.5" width="20" height="10"/>
<line class="ln" x1="1175" y1="787" x2="1432" y2="787"/><line class="ln" x1="1330" y1="787" x2="1330" y2="841"/>
<rect class="ol" x="1175" y="755" width="257" height="86"/>
<text class="t" x="1303" y="778">CH2 DIN</text>
<text class="l" x="1187" y="808">ppb250</text><text class="v" x="1323" y="808">80.6</text>
<text class="l" x="1187" y="832">ppb900</text><text class="v" x="1323" y="832">19.4</text>
</g>

<g id="n-drp">
<rect class="c" x="1527" y="755" width="240" height="87"/>
<rect class="cb" x="1660" y="787" width="107" height="55"/>
<line class="dv" x1="1686.75" y1="787" x2="1686.75" y2="842"/><line class="dv" x1="1713.5" y1="787" x2="1713.5" y2="842"/><line class="dv" x1="1740.25" y1="787" x2="1740.25" y2="842"/>
<rect class="bk" x="1660" y="795.5" width="57" height="10"/>
<rect class="bk" x="1660" y="819.5" width="46" height="10"/>
<line class="ln" x1="1527" y1="787" x2="1767" y2="787"/><line class="ln" x1="1660" y1="787" x2="1660" y2="842"/>
<rect class="ol" x="1527" y="755" width="240" height="87"/>
<text class="t" x="1647" y="778">CH2 DRP</text>
<text class="l" x="1537" y="808">ppb3</text><text class="v" x="1653" y="808">55.2</text>
<text class="l" x="1537" y="832">ppb4</text><text class="v" x="1653" y="832">44.8</text>
</g>

<g id="n-swim">
<rect class="c" x="907" y="936" width="236" height="85"/>
<rect class="cb" x="1041" y="968" width="102" height="53"/>
<line class="dv" x1="1066.5" y1="968" x2="1066.5" y2="1021"/><line class="dv" x1="1092" y1="968" x2="1092" y2="1021"/><line class="dv" x1="1117.5" y1="968" x2="1117.5" y2="1021"/>
<rect class="bk" x="1041" y="976.5" width="70" height="10"/>
<rect class="bk" x="1041" y="1000.5" width="31" height="10"/>
<line class="ln" x1="907" y1="968" x2="1143" y2="968"/><line class="ln" x1="1041" y1="968" x2="1041" y2="1021"/>
<rect class="ol" x="907" y="936" width="236" height="85"/>
<text class="t" x="1026" y="959">CH2 Swim OK</text>
<text class="l" x="925" y="989">true</text><text class="v" x="1032" y="989">69.4</text>
<text class="l" x="925" y="1013">false</text><text class="v" x="1032" y="1013">30.6</text>
</g>

<g id="n-algae">
<rect class="c" x="1212" y="943" width="237" height="92"/>
<rect class="cb" x="1347" y="976" width="102" height="59"/>
<line class="dv" x1="1372.5" y1="976" x2="1372.5" y2="1035"/><line class="dv" x1="1398" y1="976" x2="1398" y2="1035"/><line class="dv" x1="1423.5" y1="976" x2="1423.5" y2="1035"/>
<rect class="bk" x="1347" y="984.5" width="86" height="10"/>
<rect class="bk" x="1347" y="1008" width="16" height="10"/>
<line class="ln" x1="1212" y1="976" x2="1449" y2="976"/><line class="ln" x1="1347" y1="976" x2="1347" y2="1035"/>
<rect class="ol" x="1212" y="943" width="237" height="92"/>
<text class="t" x="1331" y="967">CH2 Algae OK</text>
<text class="l" x="1231" y="997">true</text><text class="v" x="1338" y="997">84.1</text>
<text class="l" x="1231" y="1020.5">false</text><text class="v" x="1338" y="1020.5">15.9</text>
</g>

<g id="n-qmci">
<rect class="c" x="1492" y="935" width="235" height="86"/>
<rect class="cb" x="1625" y="967" width="102" height="54"/>
<line class="dv" x1="1650.5" y1="967" x2="1650.5" y2="1021"/><line class="dv" x1="1676" y1="967" x2="1676" y2="1021"/><line class="dv" x1="1701.5" y1="967" x2="1701.5" y2="1021"/>
<rect class="bk" x="1625" y="976.5" width="65" height="10"/>
<rect class="bk" x="1625" y="1000.5" width="37" height="10"/>
<line class="ln" x1="1492" y1="967" x2="1727" y2="967"/><line class="ln" x1="1625" y1="967" x2="1625" y2="1021"/>
<rect class="ol" x="1492" y="935" width="235" height="86"/>
<text class="t" x="1608" y="958">CH2 QMCI&gt;5</text>
<text class="l" x="1503" y="989">true</text><text class="v" x="1618" y="989">63.6</text>
<text class="l" x="1503" y="1013">false</text><text class="v" x="1618" y="1013">36.4</text>
</g>

<g id="callout">
<rect class="co" x="996" y="413" width="719" height="227" rx="34" ry="34"/>
<text class="ct" x="1355" y="513">Problems associated with large</text>
<text class="ct" x="1355" y="570">networks is not the focus here</text>
</g>
</svg>
